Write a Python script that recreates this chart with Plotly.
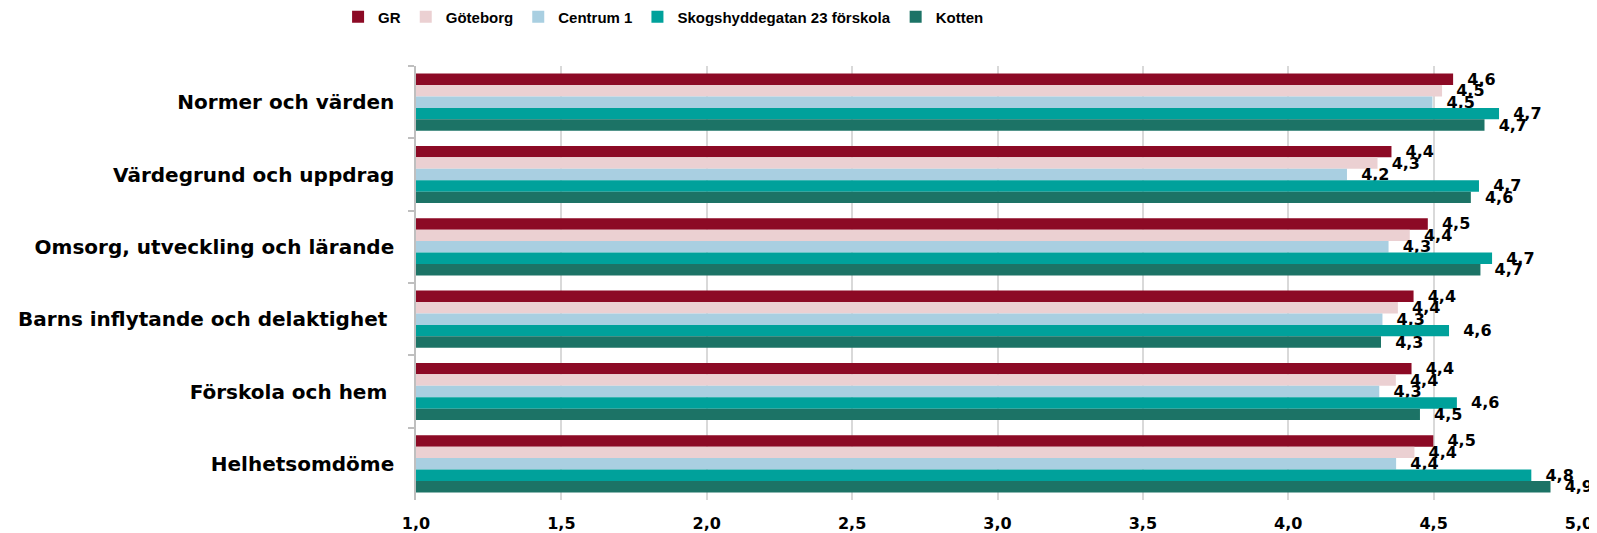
import plotly.graph_objects as go

categories = [
    "Normer och värden",
    "Värdegrund och uppdrag",
    "Omsorg, utveckling och lärande",
    "Barns inflytande och delaktighet\u00a0",
    "Förskola och hem\u00a0",
    "Helhetsomdöme",
]

series_names = ["GR", "Göteborg", "Centrum 1", "Skogshyddegatan 23 förskola", "Kotten"]

gr = [4.567, 4.355, 4.480, 4.431, 4.424, 4.499]
goteborg = [4.529, 4.307, 4.418, 4.377, 4.370, 4.434]
centrum1 = [4.496, 4.202, 4.345, 4.324, 4.313, 4.371]
skogshyddegatan = [4.725, 4.656, 4.701, 4.553, 4.580, 4.836]
kotten = [4.675, 4.628, 4.661, 4.319, 4.453, 4.902]

series_values = [gr, goteborg, centrum1, skogshyddegatan, kotten]
colors = ["#8C0A25", "#EBD0D2", "#A9CFE1", "#00A19B", "#1C7366"]

x_ticks = [1.0, 1.5, 2.0, 2.5, 3.0, 3.5, 4.0, 4.5, 5.0]

WIDE = "DejaVu Sans"
NARROW = "Liberation Sans"

fig = go.Figure()
for name, vals, col in zip(series_names, series_values, colors):
    fig.add_trace(go.Bar(
        y=categories, x=vals, name=name, orientation="h",
        marker=dict(color=col, line=dict(width=0)),
        texttemplate="\u00a0\u00a0%{x:.1f}", textposition="outside",
        textfont=dict(family=WIDE, size=16, color="#000000", weight="bold"),
        constraintext="none", cliponaxis=False,
    ))

# page body has an 8px default margin, so the figure is sized to fit the 1597x533 window
fig.update_layout(
    barmode="group",
    bargap=0.21,
    bargroupgap=0,
    separators=", ",
    width=1589, height=525,
    margin=dict(l=408, r=18, t=58, b=33, pad=0, autoexpand=False),
    paper_bgcolor="white", plot_bgcolor="white",
    font=dict(family=WIDE, color="#000000"),
    legend=dict(
        orientation="h", x=-0.067, xanchor="left", y=1.113, yanchor="middle",
        font=dict(family=NARROW, size=15, color="#000000", weight="bold"),
        itemwidth=30, tracegroupgap=0,
    ),
    xaxis=dict(
        range=[1.0, 5.0], tickvals=x_ticks, tickformat=".1f",
        showgrid=True, gridcolor="#D9D9D9", gridwidth=1.5,
        zeroline=False, showline=False, ticks="",
        tickfont=dict(family=WIDE, size=16, color="#000000", weight="bold"),
        ticklabelstandoff=12,
    ),
    yaxis=dict(
        autorange="reversed", type="category",
        showline=True, linecolor="#BFBFBF", linewidth=1.5,
        ticks="outside", tickson="boundaries", ticklen=6, tickcolor="#BFBFBF", tickwidth=1.5,
        showgrid=False,
        tickfont=dict(family=WIDE, size=20, color="#000000", weight="bold"),
        ticklabelstandoff=16,
    ),
)

fig.write_html("out.html")
